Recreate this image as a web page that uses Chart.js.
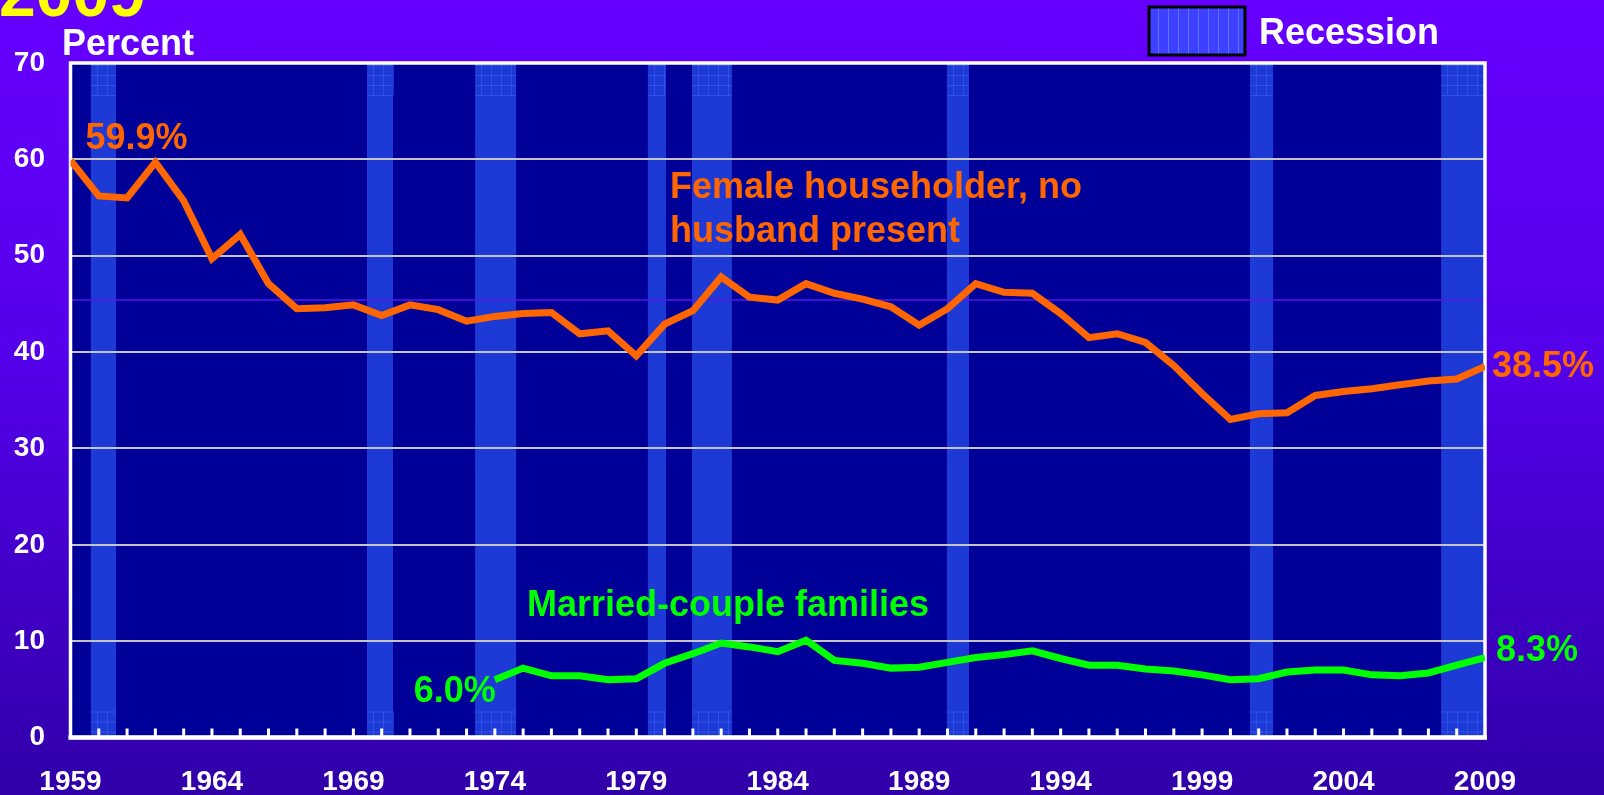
<!DOCTYPE html>
<html>
<head>
<meta charset="utf-8">
<script src="https://cdn.jsdelivr.net/npm/chart.js@4.4.1/dist/chart.umd.min.js"></script>
<style>
html, body { margin: 0; padding: 0; overflow: hidden; }
body {
  width: 1604px; height: 795px;
  background: linear-gradient(to bottom, #6600ff 0%, #5500ea 45%, #3000a8 100%);
}
canvas { display: block; }
</style>
</head>
<body>
<canvas id="chart" width="1604" height="795"></canvas>
<script>
const years = [1959, 1960, 1961, 1962, 1963, 1964, 1965, 1966, 1967, 1968,
  1969, 1970, 1971, 1972, 1973, 1974, 1975, 1976, 1977, 1978,
  1979, 1980, 1981, 1982, 1983, 1984, 1985, 1986, 1987, 1988,
  1989, 1990, 1991, 1992, 1993, 1994, 1995, 1996, 1997, 1998,
  1999, 2000, 2001, 2002, 2003, 2004, 2005, 2006, 2007, 2008, 2009];

// Female householder, no husband present (percent)
const femaleRate = [59.9, 56.2, 56.0, 59.7, 55.7, 49.7, 52.2, 47.1, 44.5, 44.6,
  44.9, 43.8, 44.9, 44.4, 43.2, 43.7, 44.0, 44.1, 41.9, 42.2,
  39.6, 42.9, 44.3, 47.8, 45.7, 45.4, 47.1, 46.1, 45.5, 44.7,
  42.8, 44.5, 47.1, 46.2, 46.1, 44.0, 41.5, 41.9, 41.0, 38.6,
  35.7, 33.0, 33.6, 33.7, 35.5, 35.9, 36.2, 36.6, 37.0, 37.2, 38.5];

// Married-couple families, from 1974 on
const marriedYears = years.slice(years.indexOf(1974));
const marriedRate = [6.0, 7.2, 6.4, 6.4, 6.0, 6.1, 7.7, 8.7, 9.8, 9.4,
  8.9, 10.1, 8.0, 7.7, 7.2, 7.3, 7.8, 8.3, 8.6, 9.0,
  8.2, 7.5, 7.5, 7.1, 6.9, 6.5, 6.0, 6.1, 6.8, 7.0,
  7.0, 6.5, 6.4, 6.7, 7.5, 8.3];

// recession shading, in axis years
const recessionStart = [1959.72, 1969.48, 1973.30, 1979.41, 1980.97, 1989.98, 2000.69, 2007.45];
const recessionEnd   = [1960.61, 1970.40, 1974.75, 1980.05, 1982.38, 1990.76, 2001.51, 2009.0];

const yTicks = [0, 10, 20, 30, 40, 50, 60, 70];
const xLabelYears = [1959, 1964, 1969, 1974, 1979, 1984, 1989, 1994, 1999, 2004, 2009];
const oddLineValue = 45.4; // faint purple rule across the plot

const FONT = '"Liberation Sans", Arial, Helvetica, sans-serif';
const ORANGE = '#ff6600';
const GREEN = '#00ff00';

function hatch(ctx, x0, x1, y0, y1) {
  ctx.beginPath();
  for (let yy = y0; yy <= y1; yy += 10) {
    ctx.moveTo(x0, yy + 0.5); ctx.lineTo(x1, yy + 0.5);
  }
  for (let xx = x0 + 6; xx < x1; xx += 10) {
    ctx.moveTo(xx + 0.5, y0); ctx.lineTo(xx + 0.5, y1);
  }
  ctx.stroke();
}

const decor = {
  id: 'decor',
  beforeDraw(chart) {
    const { ctx, chartArea: a, scales: { x } } = chart;
    ctx.save();
    // cut-off title
    ctx.fillStyle = '#ffff00';
    ctx.font = 'bold 66px ' + FONT;
    ctx.textBaseline = 'alphabetic';
    ctx.fillText('2009', -1, 16);

    ctx.fillStyle = '#000099';
    ctx.fillRect(a.left, a.top, a.width, a.height);

    recessionStart.forEach((s, i) => {
      const x0 = x.getPixelForValue(s);
      const x1 = Math.min(x.getPixelForValue(recessionEnd[i]), a.right);
      ctx.fillStyle = '#1d39d6';
      ctx.fillRect(x0, a.top, x1 - x0, a.height);
      ctx.strokeStyle = 'rgba(70,110,255,0.45)';
      ctx.lineWidth = 1;
      hatch(ctx, x0, x1, a.top + 2, a.top + 32);
      hatch(ctx, x0, x1, a.bottom - 26, a.bottom);
    });
    ctx.restore();
  },
  beforeDatasetsDraw(chart) {
    const { ctx, chartArea: a, scales: { x, y } } = chart;
    ctx.save();
    // faint rule
    const py = y.getPixelForValue(oddLineValue);
    ctx.strokeStyle = '#5a14e6';
    ctx.lineWidth = 1.5;
    ctx.beginPath(); ctx.moveTo(a.left - 2, py); ctx.lineTo(a.right, py); ctx.stroke();

    // frame
    ctx.strokeStyle = '#ffffff';
    ctx.lineWidth = 3.5;
    ctx.strokeRect(a.left, a.top, a.width, a.height);
    ctx.lineWidth = 4.5;
    ctx.beginPath(); ctx.moveTo(a.left - 2, a.bottom); ctx.lineTo(a.right + 2, a.bottom); ctx.stroke();

    // inward year ticks
    ctx.fillStyle = '#ffffff';
    years.forEach(yr => {
      if (yr === years[0] || yr === years[years.length - 1]) return;
      const px = x.getPixelForValue(yr);
      ctx.fillRect(px - 1.5, a.bottom - 9, 3, 9);
    });
    ctx.restore();
  },
  afterDraw(chart) {
    const { ctx, scales: { x, y } } = chart;
    ctx.save();
    ctx.textBaseline = 'alphabetic';
    ctx.font = 'bold 36px ' + FONT;

    // axis title
    ctx.fillStyle = '#ffffff';
    ctx.textAlign = 'left';
    ctx.fillText('Percent', 62, 55);

    // legend
    ctx.fillStyle = '#3f3fff';
    ctx.fillRect(1149, 7, 96, 48);
    ctx.strokeStyle = '#4f78ff';
    ctx.lineWidth = 1;
    ctx.beginPath();
    for (let lx = 1158; lx < 1245; lx += 10) { ctx.moveTo(lx + 0.5, 7); ctx.lineTo(lx + 0.5, 55); }
    ctx.stroke();
    ctx.strokeStyle = '#000000';
    ctx.lineWidth = 3;
    ctx.strokeRect(1149, 7, 96, 48);
    ctx.fillStyle = '#ffffff';
    ctx.fillText('Recession', 1259, 44);

    // series annotations
    const first = years[0], last = years[years.length - 1];
    ctx.fillStyle = ORANGE;
    ctx.fillText(femaleRate[0].toFixed(1) + '%', x.getPixelForValue(first) + 15, y.getPixelForValue(femaleRate[0]) - 11);
    ctx.fillText(femaleRate[femaleRate.length - 1].toFixed(1) + '%', x.getPixelForValue(last) + 7, y.getPixelForValue(femaleRate[femaleRate.length - 1]) + 10);
    ctx.fillText('Female householder, no', 670, 198);
    ctx.fillText('husband present', 670, 242);

    ctx.fillStyle = GREEN;
    ctx.fillText(marriedRate[marriedRate.length - 1].toFixed(1) + '%', x.getPixelForValue(last) + 11, y.getPixelForValue(marriedRate[marriedRate.length - 1]) + 3);
    ctx.textAlign = 'right';
    ctx.fillText(marriedRate[0].toFixed(1) + '%', x.getPixelForValue(marriedYears[0]) + 1, y.getPixelForValue(marriedRate[0]) + 22);
    ctx.textAlign = 'left';
    ctx.fillText('Married-couple families', 527, 616);
    ctx.restore();
  }
};

new Chart(document.getElementById('chart'), {
  type: 'line',
  data: {
    datasets: [
      {
        label: 'Female householder, no husband present',
        data: femaleRate.map((v, i) => ({ x: years[i], y: v })),
        borderColor: ORANGE,
        borderWidth: 7,
        pointRadius: 0,
        tension: 0
      },
      {
        label: 'Married-couple families',
        data: marriedRate.map((v, i) => ({ x: marriedYears[i], y: v })),
        borderColor: GREEN,
        borderWidth: 7,
        pointRadius: 0,
        tension: 0
      }
    ]
  },
  options: {
    responsive: false,
    animation: false,
    events: [],
    layout: { padding: { top: 63, right: 119, bottom: 0, left: 0 } },
    plugins: { legend: { display: false }, tooltip: { enabled: false } },
    scales: {
      x: {
        type: 'linear',
        min: years[0],
        max: years[years.length - 1],
        afterFit: s => { s.height = 57.5; },
        afterBuildTicks: s => { s.ticks = xLabelYears.map(v => ({ value: v })); },
        grid: { display: false, drawTicks: false },
        border: { display: false },
        ticks: {
          color: '#ffffff',
          font: { family: FONT, weight: 'bold', size: 28 },
          padding: 28,
          maxRotation: 0,
          autoSkip: false,
          callback: v => String(v)
        }
      },
      y: {
        min: 0,
        max: 70,
        afterFit: s => { s.width = 70.5; },
        afterBuildTicks: s => { s.ticks = yTicks.map(v => ({ value: v })); },
        grid: {
          drawTicks: false,
          lineWidth: 2,
          color: c => (c.tick && (c.tick.value === 0 || c.tick.value === 70)) ? 'rgba(0,0,0,0)' : '#c4c4c4'
        },
        border: { display: false },
        ticks: {
          color: '#ffffff',
          font: { family: FONT, weight: 'bold', size: 28 },
          padding: 25.5,
          callback: v => String(v)
        }
      }
    }
  },
  plugins: [decor]
});
</script>
</body>
</html>
